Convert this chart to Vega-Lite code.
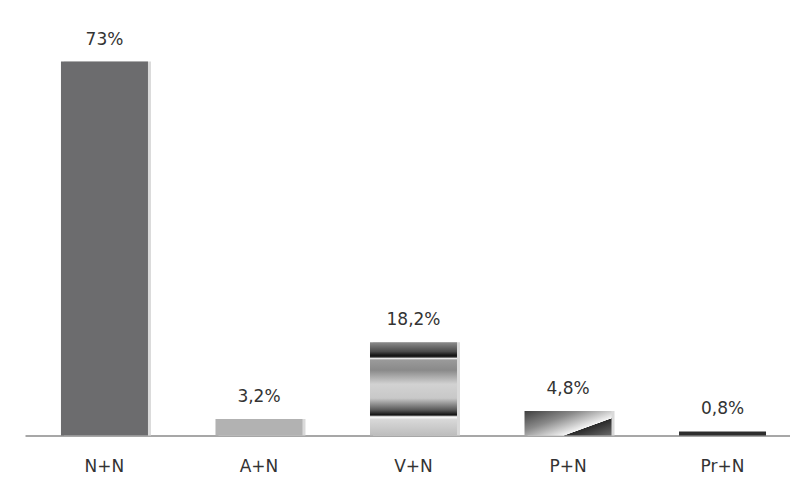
{
  "$schema": "https://vega.github.io/schema/vega-lite/v6.json",
  "width": 765,
  "height": 374,
  "autosize": "none",
  "padding": {"left": 25, "top": 61.5, "right": 0, "bottom": 41.5},
  "background": "white",
  "config": {"view": {"stroke": null}},
  "data": {
    "values": [
      {"category": "N+N", "value": 73, "label": "73%"},
      {"category": "A+N", "value": 3.2, "label": "3,2%"},
      {"category": "V+N", "value": 18.2, "label": "18,2%"},
      {"category": "P+N", "value": 4.8, "label": "4,8%"},
      {"category": "Pr+N", "value": 0.8, "label": "0,8%"}
    ]
  },
  "encoding": {
    "x": {
      "field": "category",
      "type": "nominal",
      "sort": null,
      "scale": {"paddingInner": 0.437, "paddingOuter": 0.194, "align": 0.6},
      "axis": {
        "title": null,
        "labelAngle": 0,
        "ticks": false,
        "grid": false,
        "domain": true,
        "domainColor": "#8a8a8a",
        "domainWidth": 1.5,
        "labelFont": "DejaVu Sans",
        "labelFontSize": 17,
        "labelColor": "#333333",
        "labelPadding": 23
      }
    },
    "y": {
      "field": "value",
      "type": "quantitative",
      "scale": {"domain": [0, 73], "nice": false, "zero": true},
      "axis": null
    }
  },
  "layer": [
    {
      "transform": [{"filter": "datum.category !== 'Pr+N'"}],
      "mark": {"type": "bar", "color": "#dadada", "xOffset": 3}
    },
    {
      "transform": [{"filter": "datum.category === 'N+N'"}],
      "mark": {"type": "bar", "color": "#6c6c6e"}
    },
    {
      "transform": [{"filter": "datum.category === 'A+N'"}],
      "mark": {"type": "bar", "color": "#b2b2b2"}
    },
    {
      "transform": [{"filter": "datum.category === 'V+N'"}],
      "mark": {
        "type": "bar",
        "color": {
          "gradient": "linear",
          "x1": 0, "y1": 0, "x2": 0, "y2": 1,
          "stops": [
            {"offset": 0, "color": "#8c8c8c"},
            {"offset": 0.1, "color": "#4a4a4a"},
            {"offset": 0.14, "color": "#151515"},
            {"offset": 0.16, "color": "#2a2a2a"},
            {"offset": 0.17, "color": "#ffffff"},
            {"offset": 0.19, "color": "#9a9a9a"},
            {"offset": 0.3, "color": "#8a8a8a"},
            {"offset": 0.45, "color": "#d2d2d2"},
            {"offset": 0.6, "color": "#c8c8c8"},
            {"offset": 0.73, "color": "#555555"},
            {"offset": 0.78, "color": "#111111"},
            {"offset": 0.8, "color": "#ffffff"},
            {"offset": 0.83, "color": "#d8d8d8"},
            {"offset": 1, "color": "#bdbdbd"}
          ]
        }
      }
    },
    {
      "transform": [{"filter": "datum.category === 'P+N'"}],
      "mark": {
        "type": "bar",
        "color": {
          "gradient": "linear",
          "x1": 0, "y1": 0, "x2": 1.108, "y2": 0.864,
          "stops": [
            {"offset": 0, "color": "#3e3e3e"},
            {"offset": 0.35, "color": "#8a8a8a"},
            {"offset": 0.69, "color": "#f4f4f4"},
            {"offset": 0.7, "color": "#2a2a2a"},
            {"offset": 1, "color": "#6a6a6a"}
          ]
        }
      }
    },
    {
      "transform": [{"filter": "datum.category === 'Pr+N'"}],
      "mark": {"type": "bar", "color": "#2e2e2e"}
    },
    {
      "mark": {
        "type": "text",
        "baseline": "alphabetic",
        "dy": -17,
        "font": "DejaVu Sans",
        "fontSize": 17,
        "color": "#333333"
      },
      "encoding": {"text": {"field": "label", "type": "nominal"}}
    }
  ]
}
